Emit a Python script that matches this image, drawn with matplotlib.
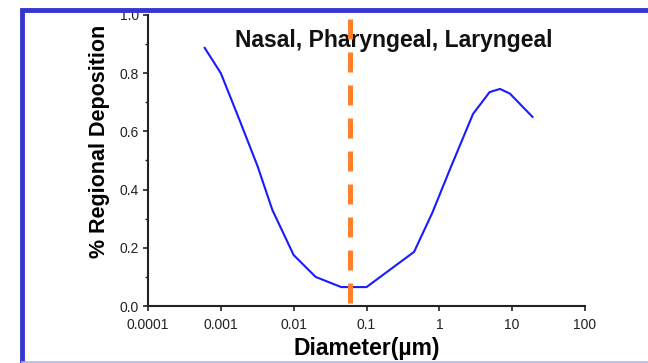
import matplotlib.pyplot as plt
from matplotlib.lines import Line2D
from matplotlib.ticker import MultipleLocator, FixedLocator, FixedFormatter, NullLocator

plt.rcParams['font.family'] = ['Liberation Sans', 'DejaVu Sans']

# particle diameter (um) and regional deposition fraction
diameter = [0.0006, 0.001, 0.0018, 0.0032, 0.0051, 0.01, 0.02, 0.045, 0.1,
            0.45, 0.8, 1.4, 2.9, 4.9, 6.8, 9.3, 19]
deposition = [0.887, 0.80, 0.64, 0.48, 0.33, 0.175, 0.10, 0.065, 0.065,
              0.186, 0.32, 0.47, 0.66, 0.735, 0.746, 0.73, 0.65]

marker_d = 0.06
marker_span = [0.01, 0.985]

xticks = [0.0001, 0.001, 0.01, 0.1, 1, 10, 100]
xtick_labels = ['0.0001', '0.001', '0.01', '0.1', '1', '10', '100']
yticks = [0.0, 0.2, 0.4, 0.6, 0.8, 1.0]

fig = plt.figure(figsize=(6.48, 3.63), dpi=100)
ax = fig.add_axes([148/648, 1 - 306/363, (585-148)/648, (306-15)/363])

ax.plot(diameter, deposition, color='#1a1aff', lw=1.5)
ax.plot([marker_d, marker_d], marker_span, color='#ff7f2a', lw=3.6,
        dashes=(4.0, 2.6), dash_capstyle='butt', zorder=4)

ax.set_xscale('log')
ax.set_xlim(0.0001, 100)
ax.set_ylim(0, 1.0)
ax.xaxis.set_major_locator(FixedLocator(xticks))
ax.xaxis.set_major_formatter(FixedFormatter(xtick_labels))
ax.xaxis.set_minor_locator(NullLocator())
ax.set_yticks(yticks)
ax.set_yticklabels([f'{v:.1f}' for v in yticks])
ax.yaxis.set_minor_locator(MultipleLocator(0.1))

for s in ['top', 'right']:
    ax.spines[s].set_visible(False)
for s in ['left', 'bottom']:
    ax.spines[s].set_linewidth(1.5)
    ax.spines[s].set_color('#222222')

ax.tick_params(axis='both', which='major', direction='out', length=3.5,
               width=1.2, labelsize=10, colors='#222222')
ax.tick_params(axis='y', which='minor', direction='out', length=2.5, width=1.0,
               colors='#222222')
ax.tick_params(axis='x', pad=5)
ax.tick_params(axis='y', pad=3)

ax.set_xlabel('Diameter(µm)', fontsize=16.5, fontweight='bold', labelpad=4)
ax.set_ylabel('% Regional Deposition', fontsize=15.5, fontweight='bold')
ax.yaxis.set_label_coords(-0.086, 0.567)

ax.text(0.563, 0.89, 'Nasal, Pharyngeal, Laryngeal', transform=ax.transAxes,
        ha='center', va='baseline', fontsize=16.5, fontweight='bold', color='#111111')

# blue frame around the figure (left and top), faint line at bottom
fig.add_artist(Line2D([22/648, 22/648, 1], [1/363, 353/363, 353/363],
                      transform=fig.transFigure, color='#3535d0', lw=3.5,
                      solid_joinstyle='miter'))
fig.add_artist(Line2D([22/648, 1], [1.5/363, 1.5/363], transform=fig.transFigure,
                      color='#b4b4f0', lw=1.2))

fig.savefig('out.png', dpi=100)
